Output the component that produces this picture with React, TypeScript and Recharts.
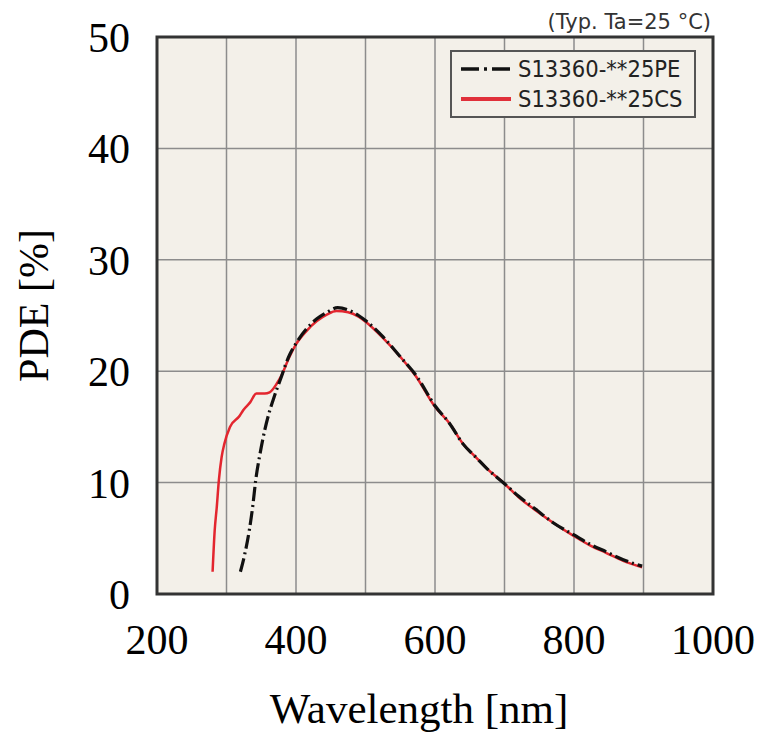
import { LineChart, Line, XAxis, YAxis, CartesianGrid, Legend, ReferenceArea, Label } from 'recharts'

// S13360-**25PE (dash-dot black)
const peWavelength = [320, 326, 333, 338, 342, 348, 355, 361, 367, 373, 379, 385, 391, 400, 415, 430, 445, 460, 475, 490, 501, 525, 550, 573, 600, 621, 640, 660, 674, 700, 720, 745, 770, 800, 825, 846, 870, 898]
const pePde = [2.0, 3.5, 5.8, 8.0, 10.2, 12.5, 14.7, 16.2, 17.4, 18.5, 19.5, 20.6, 21.5, 22.5, 23.8, 24.7, 25.3, 25.7, 25.5, 25.0, 24.5, 23.1, 21.3, 19.6, 16.9, 15.3, 13.5, 12.2, 11.3, 9.9, 8.8, 7.6, 6.4, 5.3, 4.4, 3.8, 3.1, 2.5]

// S13360-**25CS (red)
const csWavelength = [280, 283, 286, 289, 293, 297, 305, 319, 324, 334, 343, 355, 362, 372, 379, 390, 400, 415, 430, 445, 458, 475, 490, 501, 525, 550, 573, 600, 621, 640, 660, 674, 700, 720, 745, 770, 800, 825, 846, 870, 898]
const csPde = [2.0, 5.7, 7.8, 10.2, 12.3, 13.5, 15.0, 16.0, 16.5, 17.2, 18.0, 18.0, 18.1, 18.85, 19.6, 21.2, 22.4, 23.6, 24.5, 25.1, 25.4, 25.3, 24.9, 24.4, 23.0, 21.3, 19.5, 16.8, 15.3, 13.5, 12.2, 11.3, 9.9, 8.7, 7.5, 6.4, 5.2, 4.3, 3.7, 3.0, 2.4]

const xTicks = [200, 300, 400, 500, 600, 700, 800, 900, 1000]
const yTicks = [0, 10, 20, 30, 40, 50]

const peData = peWavelength.map((w, i) => ({ w, pde: pePde[i] }))
const csData = csWavelength.map((w, i) => ({ w, pde: csPde[i] }))

const serif = '"Liberation Serif", "Times New Roman", serif'
const sansCond = '"DejaVu Sans Condensed", "DejaVu Sans", sans-serif'
const sans = '"DejaVu Sans", sans-serif'

function LegendBox() {
  return (
    <div style={{ width: 263, color: '#333' }}>
      <div style={{ textAlign: 'right', fontFamily: sans, fontSize: 21, lineHeight: '24px', paddingRight: 2 }}>(Typ. Ta=25 °C)</div>
      <div
        style={{
          marginTop: 16,
          width: 234,
          height: 62,
          border: '2px solid #555',
          background: '#f3f0e9',
          padding: '2px 0 0 8px',
          fontFamily: sansCond,
          fontSize: 23.5,
          color: '#222'
        }}
      >
        <div style={{ display: 'flex', alignItems: 'center', height: 30 }}>
          <svg width={52} height={10}>
            <line x1={1} y1={5} x2={51} y2={5} stroke="#111" strokeWidth={3.5} strokeDasharray="18 5 3 5" />
          </svg>
          <span style={{ marginLeft: 6 }}>S13360-**25PE</span>
        </div>
        <div style={{ display: 'flex', alignItems: 'center', height: 30 }}>
          <svg width={52} height={10}>
            <line x1={1} y1={5} x2={51} y2={5} stroke="#e0303a" strokeWidth={4} />
          </svg>
          <span style={{ marginLeft: 6 }}>S13360-**25CS</span>
        </div>
      </div>
    </div>
  )
}

export default function App() {
  return (
    <div style={{ position: 'absolute', left: 0, top: 0, width: 765, height: 736, background: '#fff' }}>
      <LineChart width={765} height={736} margin={{ top: 37, right: 52, bottom: 0, left: 0 }}>
        <CartesianGrid stroke="#8c8c8c" strokeWidth={1.5} fill="#f3f0e9" />
        <XAxis
          type="number"
          dataKey="w"
          domain={[200, 1000]}
          ticks={xTicks}
          tickFormatter={(v: number) => (v % 200 === 0 ? String(v) : '')}
          height={142}
          axisLine={false}
          tickLine={false}
          tickSize={0}
          tickMargin={30}
          tick={{ fill: '#000', fontSize: 42, fontFamily: serif }}
          allowDuplicatedCategory={false}
        >
          <Label value="Wavelength [nm]" position="center" dx={-16} dy={43} style={{ fill: '#000', fontSize: 43, fontFamily: serif }} />
        </XAxis>
        <YAxis
          type="number"
          domain={[0, 50]}
          ticks={yTicks}
          width={157}
          axisLine={false}
          tickLine={false}
          tickSize={0}
          tickMargin={27}
          tick={{ fill: '#000', fontSize: 42, fontFamily: serif }}
        >
          <Label value="PDE [%]" position="center" angle={-90} dx={-45} dy={-10} style={{ fill: '#000', fontSize: 42, fontFamily: serif }} />
        </YAxis>
        <Legend
          layout="vertical"
          align="center"
          verticalAlign="middle"
          content={() => <LegendBox />}
          wrapperStyle={{ left: 450, top: 10, width: 265 }}
        />
        <Line
          data={csData}
          dataKey="pde"
          type="monotone"
          stroke="#e3262f"
          strokeWidth={2.5}
          dot={false}
          isAnimationActive={false}
        />
        <Line
          data={peData}
          dataKey="pde"
          type="monotone"
          stroke="#111"
          strokeWidth={3.2}
          strokeDasharray="14 4 2 4"
          dot={false}
          isAnimationActive={false}
        />
        <ReferenceArea x1={200} x2={1000} y1={0} y2={50} fill="none" fillOpacity={0} stroke="#333" strokeWidth={3} ifOverflow="visible" />
      </LineChart>
    </div>
  )
}
